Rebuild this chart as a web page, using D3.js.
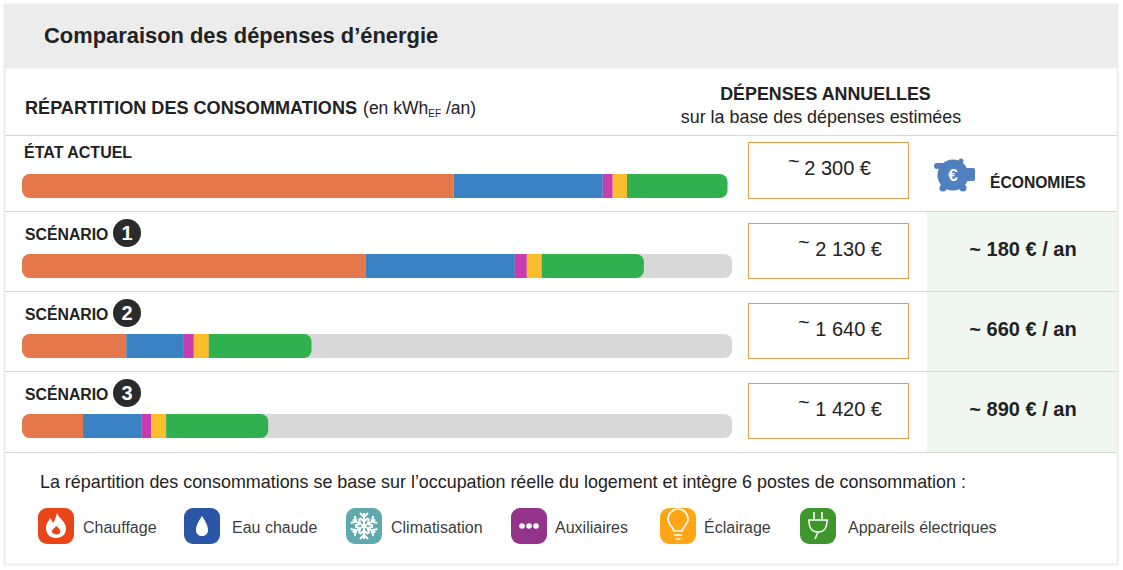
<!DOCTYPE html>
<html lang="fr">
<head>
<meta charset="utf-8">
<title>Comparaison des dépenses d'énergie</title>
<script src="https://cdn.jsdelivr.net/npm/d3@7"></script>
<style>
  html, body { margin: 0; padding: 0; background: #fff; }
  svg { display: block; }
  text { font-family: "Liberation Sans", Arial, sans-serif; fill: #222; }
</style>
</head>
<body>
<svg id="chart" width="1123" height="570"></svg>
<script>
// Values, in % of the grey track
const rows = ["ÉTAT ACTUEL", "SCÉNARIO", "SCÉNARIO", "SCÉNARIO"];
const badges = [null, 1, 2, 3];
const postes = ["Chauffage", "Eau chaude", "Auxiliaires", "Éclairage", "Appareils électriques"];
const chauffage = [60.8, 48.4, 14.7, 8.6];
const eauChaude = [21.0, 21.0, 8.0, 8.2];
const auxiliaires = [1.4, 1.7, 1.5, 1.4];
const eclairage = [2.0, 2.1, 2.1, 2.1];
const appareils = [14.2, 14.4, 14.5, 14.4];
const depenses = [2300, 2130, 1640, 1420];
const economies = [null, 180, 660, 890];
const legendLabels = ["Chauffage", "Eau chaude", "Climatisation", "Auxiliaires", "Éclairage", "Appareils électriques"];

const colors = ["#e5774a", "#3b82c4", "#c93cb0", "#fabd2c", "#31b04f"];
const legendColors = ["#ea4519", "#2a56a5", "#5fa8ae", "#93338a", "#ffa516", "#3f962c"];

const svg = d3.select("#chart");
const line = "#d6d6d6";

// Panel frame and header
svg.append("rect").attr("x", 4).attr("y", 4).attr("width", 1113).attr("height", 64.5).attr("fill", "#ececec");
svg.append("rect").attr("x", 4.5).attr("y", 4.5).attr("width", 1113).attr("height", 560)
  .attr("fill", "none").attr("stroke", "#ececec").attr("stroke-width", 2);
svg.append("rect").attr("x", 927).attr("y", 212).attr("width", 190).attr("height", 240).attr("fill", "#f1f8f1");

[135.5, 211.5, 291.5, 371.5, 452.5].forEach(y => {
  svg.append("line").attr("x1", 5).attr("x2", 1117).attr("y1", y).attr("y2", y)
    .attr("stroke", line).attr("stroke-width", 1);
});

svg.append("text").attr("x", 44).attr("y", 43).attr("font-size", 21.9).attr("font-weight", "bold").text("Comparaison des dépenses d’énergie");

const head = svg.append("text").attr("x", 25).attr("y", 113.5).attr("font-size", 18.1);
head.append("tspan").attr("font-weight", "bold").text("RÉPARTITION DES CONSOMMATIONS");
head.append("tspan").attr("dx", 6).attr("font-size", 17.5).text("(en kWh");
head.append("tspan").attr("font-size", 10).attr("dy", 3).text("EF");
head.append("tspan").attr("dx", 5).attr("dy", -3).attr("font-size", 17.5).text("/an)");

svg.append("text").attr("x", 825.5).attr("y", 100).attr("text-anchor", "middle").attr("font-size", 17.85).attr("font-weight", "bold").text("DÉPENSES ANNUELLES");
svg.append("text").attr("x", 821).attr("y", 123).attr("text-anchor", "middle").attr("font-size", 17.9).text("sur la base des dépenses estimées");

// Scales
const x = d3.scaleLinear().domain([0, 100]).range([22, 732]);
const y = d3.scaleBand().domain(d3.range(rows.length)).range([174 - 28, 438 + 28]).paddingInner(0).paddingOuter(0);
const barH = 24;
const barY = i => y(i) + (y.bandwidth() - barH) / 2;

const table = rows.map((r, i) => ({
  "Chauffage": chauffage[i],
  "Eau chaude": eauChaude[i],
  "Auxiliaires": auxiliaires[i],
  "Éclairage": eclairage[i],
  "Appareils électriques": appareils[i]
}));
const stacked = d3.stack().keys(postes)(table);
const color = d3.scaleOrdinal().domain(postes).range(colors);

// Grey tracks (the current state has none)
svg.append("g").selectAll("rect").data(d3.range(1, rows.length)).enter().append("rect")
  .attr("x", x(0)).attr("y", barY).attr("width", x(100) - x(0)).attr("height", barH)
  .attr("rx", 8).attr("fill", "#d8d8d8");

// One clip per row so the stacked bar gets round ends
const defs = svg.append("defs");
rows.forEach((r, i) => {
  const total = d3.sum(postes, k => table[i][k]);
  defs.append("clipPath").attr("id", "clip" + i).append("rect")
    .attr("x", x(0)).attr("y", barY(i)).attr("width", x(total) - x(0)).attr("height", barH).attr("rx", 8);
});

const barRows = svg.append("g").selectAll("g").data(d3.range(rows.length)).enter().append("g")
  .attr("clip-path", i => `url(#clip${i})`);
barRows.selectAll("rect").data(i => stacked.map(s => ({ key: s.key, i, d: s[i] }))).enter().append("rect")
  .attr("x", s => x(s.d[0])).attr("y", s => barY(s.i))
  .attr("width", s => x(s.d[1]) - x(s.d[0])).attr("height", barH)
  .attr("fill", s => color(s.key));

// Row labels
svg.append("text").attr("x", 24).attr("y", 158).attr("font-size", 16).attr("font-weight", "bold").text(rows[0]);
badges.forEach((b, i) => {
  if (b === null) return;
  const base = barY(i) - 14;
  svg.append("text").attr("x", 25).attr("y", base).attr("font-size", 15.8).attr("font-weight", "bold").text(rows[i]);
  svg.append("circle").attr("cx", 127).attr("cy", base - 7).attr("r", 14).attr("fill", "#2b2b2b");
  svg.append("text").attr("x", 127).attr("y", base).attr("text-anchor", "middle").attr("font-size", 20)
    .attr("font-weight", "bold").style("fill", "#fff").text(b);
});

// Expense boxes
const euro = v => d3.format(",")(v).replace(",", " ") + " €";
depenses.forEach((v, i) => {
  const top = i === 0 ? 142.5 : barY(i) - 30.5;
  const h = i === 0 ? 56 : 55;
  svg.append("rect").attr("x", 748.5).attr("y", top).attr("width", 160).attr("height", h)
    .attr("fill", "#fff").attr("stroke", "#e09f4f").attr("stroke-width", 1);
  const tx = i === 0 ? 788 : 798;
  const base = top + 32;
  svg.append("text").attr("x", tx).attr("y", base - 7).attr("font-size", 20).text("~");
  svg.append("text").attr("x", tx + (i === 0 ? 83 : 84)).attr("y", base).attr("text-anchor", "end").attr("font-size", 20).text(euro(v));
});

// Savings column
economies.forEach((v, i) => {
  if (v === null) return;
  svg.append("text").attr("x", 1023).attr("y", barY(i) + 2).attr("text-anchor", "middle")
    .attr("font-size", 20).attr("font-weight", "bold").text(`~ ${v} € / an`);
});
svg.append("text").attr("x", 990).attr("y", 188).attr("font-size", 15.65).attr("font-weight", "bold").text("ÉCONOMIES");

// Piggy bank
const pig = svg.append("g").attr("transform", "translate(953,175)").attr("fill", "#4f7fbf");
pig.append("circle").attr("r", 15.5);
pig.append("rect").attr("x", 6).attr("y", -7).attr("width", 16).attr("height", 13).attr("rx", 2);
pig.append("circle").attr("cx", -16).attr("cy", -9).attr("r", 3);
pig.append("rect").attr("x", -16).attr("y", -12).attr("width", 8).attr("height", 5);
pig.append("circle").attr("cx", 8).attr("cy", -14).attr("r", 2.5);
pig.append("circle").attr("cx", -10).attr("cy", 13).attr("r", 3.5);
pig.append("circle").attr("cx", 10).attr("cy", 13).attr("r", 3.5);
pig.append("text").attr("x", 0).attr("y", 6).attr("text-anchor", "middle").attr("font-size", 17).attr("font-weight", "bold")
  .style("fill", "#fff").text("€");

// Legend
svg.append("text").attr("x", 40).attr("y", 488).attr("font-size", 17.9)
  .text("La répartition des consommations se base sur l’occupation réelle du logement et intègre 6 postes de consommation :");

const legendIconX = [38, 184, 346, 511, 660, 800];
const legendTextX = [83, 232, 391, 555, 704, 848];
const icons = [
  g => { // flame
    g.append("path").attr("d", "M1,-13 C3,-7 10,-5 10,3 C10,9 5,12 0,12 C-6,12 -10,8 -10,2 C-10,-3 -7,-5 -6,-8 C-4,-6 -4,-4 -3,-3 C-1,-6 0,-9 1,-13Z").attr("fill", "#fff");
    g.append("path").attr("d", "M0,0 C3,2 5,4 4,7 C3,9 -3,9 -4,6 C-5,4 -2,3 0,0Z").attr("fill", "#ea4519");
  },
  g => { // drop
    g.append("path").attr("d", "M0,-10 C3,-5 6,-1 6,4 C6,8 3,10 0,10 C-3,10 -6,8 -6,4 C-6,-1 -3,-5 0,-10Z").attr("fill", "#fff");
  },
  g => { // snowflake
    const arm = g.append("g").attr("stroke", "#fff").attr("stroke-width", 2).attr("fill", "none");
    d3.range(6).forEach(k => {
      arm.append("path").attr("transform", `rotate(${k * 60})`)
        .attr("d", "M0,0 V-13 M-4,-13 L0,-9 L4,-13 M-4,-8 L0,-4.5 L4,-8");
    });
  },
  g => { // dots
    [-7, 0, 7].forEach(dx => g.append("circle").attr("cx", dx).attr("r", 2.8).attr("fill", "#fff"));
  },
  g => { // bulb
    const s = g.append("g").attr("fill", "none").attr("stroke", "#fff").attr("stroke-width", 1.6);
    s.append("path").attr("d", "M-4,5 C-5,1 -10,-2 -10,-7 A10,10 0 0 1 10,-7 C10,-2 5,1 4,5 Z");
    s.append("path").attr("d", "M-4,9 H4 M-2.5,13 H2.5");
  },
  g => { // plug
    const s = g.append("g").attr("fill", "none").attr("stroke", "#fff").attr("stroke-width", 1.6);
    s.append("path").attr("d", "M-4,-14 V-6 M4,-14 V-6 M-9,-6 H9 C9,3 6,6 0,6 C-6,6 -9,3 -9,-6 Z");
    s.append("path").attr("d", "M0,6 L-3,13");
  }
];

legendLabels.forEach((label, i) => {
  const g = svg.append("g").attr("transform", `translate(${legendIconX[i]},508)`);
  g.append("rect").attr("width", 36).attr("height", 36).attr("rx", 9).attr("fill", legendColors[i]);
  icons[i](g.append("g").attr("transform", "translate(18,18)"));
  svg.append("text").attr("x", legendTextX[i]).attr("y", 533).attr("font-size", 16).attr("fill-opacity", 0.9).text(label);
});
</script>
</body>
</html>
